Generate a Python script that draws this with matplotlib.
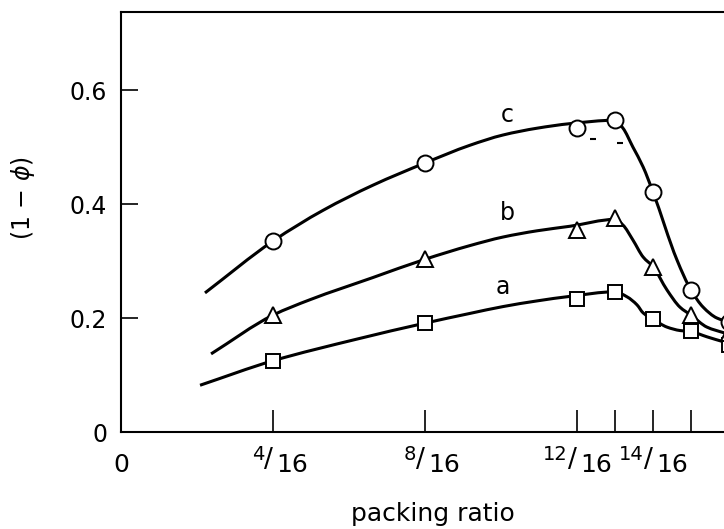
#! /usr/bin/python3

import numpy as np
import matplotlib
matplotlib.use("Agg")
import matplotlib.pyplot as plt
from matplotlib.path import Path
from matplotlib.patches import PathPatch
from matplotlib.transforms import offset_copy

DPI = 100

# measured points, x in sixteenths
a_x = [4, 8, 12, 13, 14, 15, 16]
a_y = [0.125, 0.191, 0.233, 0.246, 0.198, 0.177, 0.153]
b_x = [4, 8, 12, 13, 14, 15, 16]
b_y = [0.205, 0.303, 0.354, 0.375, 0.290, 0.205, 0.173]
c_x = [4, 8, 12, 13, 14, 15, 16]
c_y = [0.335, 0.472, 0.533, 0.547, 0.421, 0.249, 0.193]

# hand-drawn curves
a_line_x = [2.08, 4, 6.21, 8, 9.18, 10.05, 10.95, 11.82, 13, 13.32, 13.58, 13.74, 14,
            14.37, 14.71, 15, 15.42, 15.87, 16.6]
a_line_y = [0.082, 0.125, 0.163, 0.191, 0.208, 0.220, 0.230, 0.238, 0.246, 0.237, 0.223,
            0.209, 0.198, 0.184, 0.178, 0.176, 0.167, 0.158, 0.145]
b_line_x = [2.37, 4, 4.97, 6.63, 8, 9.18, 10.05, 10.95, 11.82, 13, 13.21, 13.47, 13.74, 14,
            14.37, 14.71, 15, 15.42, 15.87, 16.6]
b_line_y = [0.137, 0.205, 0.232, 0.271, 0.303, 0.327, 0.342, 0.353, 0.361, 0.373, 0.363,
            0.337, 0.307, 0.29, 0.249, 0.219, 0.205, 0.184, 0.174, 0.16]
c_line_x = [2.21, 4, 5.32, 6.63, 8, 9.18, 10.05, 10.95, 11.82, 13, 13.21, 13.47, 13.74, 14,
            14.63, 15, 15.32, 15.68, 16, 16.6]
c_line_y = [0.244, 0.335, 0.389, 0.433, 0.472, 0.503, 0.521, 0.533, 0.541, 0.547, 0.533,
            0.5, 0.465, 0.421, 0.302, 0.249, 0.219, 0.2, 0.193, 0.18]

# two stray dashes under curve c
stray_x = [12.42, 13.13]
stray_y = [0.514, 0.507]

x_ticks = [0, 4, 8, 12, 13, 14, 15]
frac_ticks = [4, 8, 12, 14]
frac_nums = ["4", "8", "12", "14"]
frac_den = "16"
y_ticks = [0, 0.2, 0.4, 0.6]
y_labels = ["0", "0.2", "0.4", "0.6"]

curve_labels = ["a", "b", "c"]
curve_label_x = [10.05, 10.16, 10.16]
curve_label_y = [0.254, 0.384, 0.556]


# monotone cubic (pchip style) drawn as bezier segments
def smooth_path(xs, ys):
    xs = np.asarray(xs, float) / 16
    ys = np.asarray(ys, float)
    h = np.diff(xs)
    d = np.diff(ys) / h
    m = np.zeros_like(ys)
    m[0] = d[0]
    m[-1] = d[-1]
    for i in range(1, len(xs) - 1):
        if d[i - 1] * d[i] > 0:
            w1 = 2 * h[i] + h[i - 1]
            w2 = h[i] + 2 * h[i - 1]
            m[i] = (w1 + w2) / (w1 / d[i - 1] + w2 / d[i])
    verts = [(xs[0], ys[0])]
    codes = [Path.MOVETO]
    for i in range(len(xs) - 1):
        verts += [(xs[i] + h[i] / 3, ys[i] + m[i] * h[i] / 3),
                  (xs[i + 1] - h[i] / 3, ys[i + 1] - m[i + 1] * h[i] / 3),
                  (xs[i + 1], ys[i + 1])]
        codes += [Path.CURVE4] * 3
    return Path(verts, codes)


def main():
    plt.rcParams["font.family"] = ["DejaVu Sans"]
    plt.rcParams["mathtext.fontset"] = "dejavusans"

    fig = plt.figure(figsize=(7.24, 5.29), dpi=DPI)
    ax = fig.add_axes([121 / 724, 97 / 529, 646 / 724, 420 / 529])

    for lx, ly in ((a_line_x, a_line_y), (b_line_x, b_line_y), (c_line_x, c_line_y)):
        ax.add_patch(PathPatch(smooth_path(lx, ly), fill=False, lw=2.2,
                               edgecolor="black", zorder=2))

    ax.plot(np.array(a_x) / 16, a_y, "s", ms=9.5, mfc="white", mec="black", mew=1.4, zorder=3)
    ax.plot(np.array(b_x) / 16, b_y, "^", ms=11, mfc="white", mec="black", mew=1.4, zorder=3)
    ax.plot(np.array(c_x) / 16, c_y, "o", ms=11.5, mfc="white", mec="black", mew=1.4, zorder=3)
    ax.plot(np.array(stray_x) / 16, stray_y, "_", ms=5, mew=1.5, color="black", zorder=3)

    for lab, lx, ly in zip(curve_labels, curve_label_x, curve_label_y):
        ax.text(lx / 16, ly, lab, fontsize=17, ha="center", va="center")

    ax.set_xlim(0, 17 / 16)
    ax.set_ylim(0, 420 / 570)

    ax.set_xticks(np.array(x_ticks) / 16)
    ax.set_xticklabels([])
    ax.set_yticks(y_ticks)
    ax.set_yticklabels(y_labels, fontsize=17)
    ax.tick_params(axis="x", direction="in", length=16, width=1.2)
    ax.tick_params(axis="y", direction="in", length=12, width=1.2, pad=10)

    # x tick labels written as slanted fractions
    base = ax.get_xaxis_transform()
    ax.text(0, 0, "0", transform=offset_copy(base, fig=fig, x=0, y=-21, units="dots"),
            ha="center", va="top", fontsize=18)
    for xt, num in zip(frac_ticks, frac_nums):
        ax.text(xt / 16, 0, num, transform=offset_copy(base, fig=fig, x=-9, y=-13, units="dots"),
                ha="right", va="top", fontsize=14)
        ax.text(xt / 16, 0, "/", transform=offset_copy(base, fig=fig, x=-5, y=-28, units="dots"),
                ha="center", va="center", fontsize=19)
        ax.text(xt / 16, 0, frac_den, transform=offset_copy(base, fig=fig, x=3, y=-21, units="dots"),
                ha="left", va="top", fontsize=18)

    for side in ("left", "bottom", "top", "right"):
        ax.spines[side].set_linewidth(1.5)

    fig.text(433 / 724, 1 - 514 / 529, "packing ratio", fontsize=18,
             ha="center", va="center")
    fig.text(23 / 724, 1 - 198 / 529, r"(1 $-$ $\phi$)", fontsize=17,
             ha="center", va="center", rotation=90)

    plt.savefig("out.png", dpi=DPI)


if __name__ == "__main__":
    main()
